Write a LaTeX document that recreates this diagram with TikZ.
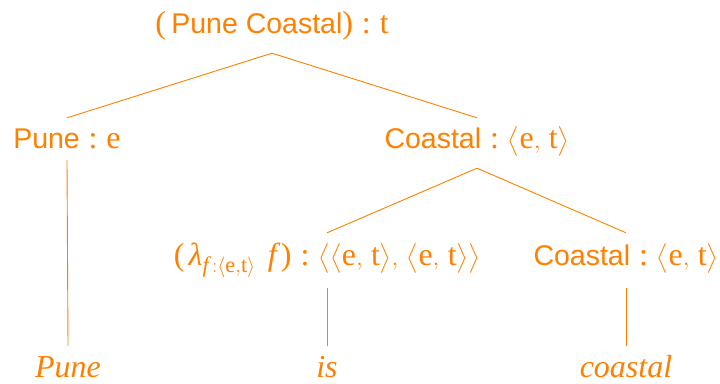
\documentclass[tikz,border=0pt]{standalone}
\usepackage{amsmath}
\usepackage{fontspec}
\setmainfont{Liberation Serif}
\setsansfont{Liberation Sans}
\definecolor{org}{RGB}{255,128,0}
\newcommand{\nm}[1]{{\fontsize{28.5}{34}\selectfont\sffamily #1}}
\newcommand{\la}{\mathopen{\big\langle}}
\newcommand{\ra}{\mathclose{\big\rangle}}
\newcommand{\et}{\text{e},\,\text{t}}
\begin{document}
\begin{tikzpicture}[x=1pt,y=-1pt,
  lbl/.style={text=org, font=\fontsize{32}{38}\selectfont\rmfamily, inner sep=0pt, anchor=base},
  edge/.style={draw=org, line width=0.9pt}]
\useasboundingbox (0,0) rectangle (720,383);
\node[lbl, text depth=20pt] (root) at (272,33) {(\,\nm{Pune Coastal})\;:\;t};
\node[lbl, text height=30pt, text depth=12pt] (pune) at (67,148) {\nm{Pune}\;:\;e};
\node[lbl, text height=30pt, text depth=20pt] (coast) at (477,148) {\nm{Coastal}\;:\;$\la\et\ra$};
\node[lbl, text height=32pt, text depth=23pt] (lam) at (327,265) {$\text{(}\,\text{\itshape λ}_{\text{\itshape f}\,:\langle\text{e},\text{t}\rangle}\ \,\text{\itshape f}\,\text{)}$\;:\;$\la\la\et\ra,\,\la\et\ra\ra$};
\node[lbl, text height=32pt, text depth=23pt] (coast2) at (626,265) {\nm{Coastal}\;:\;$\la\et\ra$};
\node[lbl, text height=31pt] (w1) at (68,377) {\itshape Pune};
\node[lbl, text height=31pt] (w2) at (327,377) {\itshape is};
\node[lbl, text height=31pt] (w3) at (626,377) {\itshape coastal};
\draw[edge] (root.south) -- (pune.north);
\draw[edge] (root.south) -- (coast.north);
\draw[edge] (pune.south) -- (w1.north);
\draw[edge] (coast.south) -- (lam.north);
\draw[edge] (coast.south) -- (coast2.north);
\draw[edge] (lam.south) -- (w2.north);
\draw[edge] (coast2.south) -- (w3.north);
\end{tikzpicture}
\end{document}
